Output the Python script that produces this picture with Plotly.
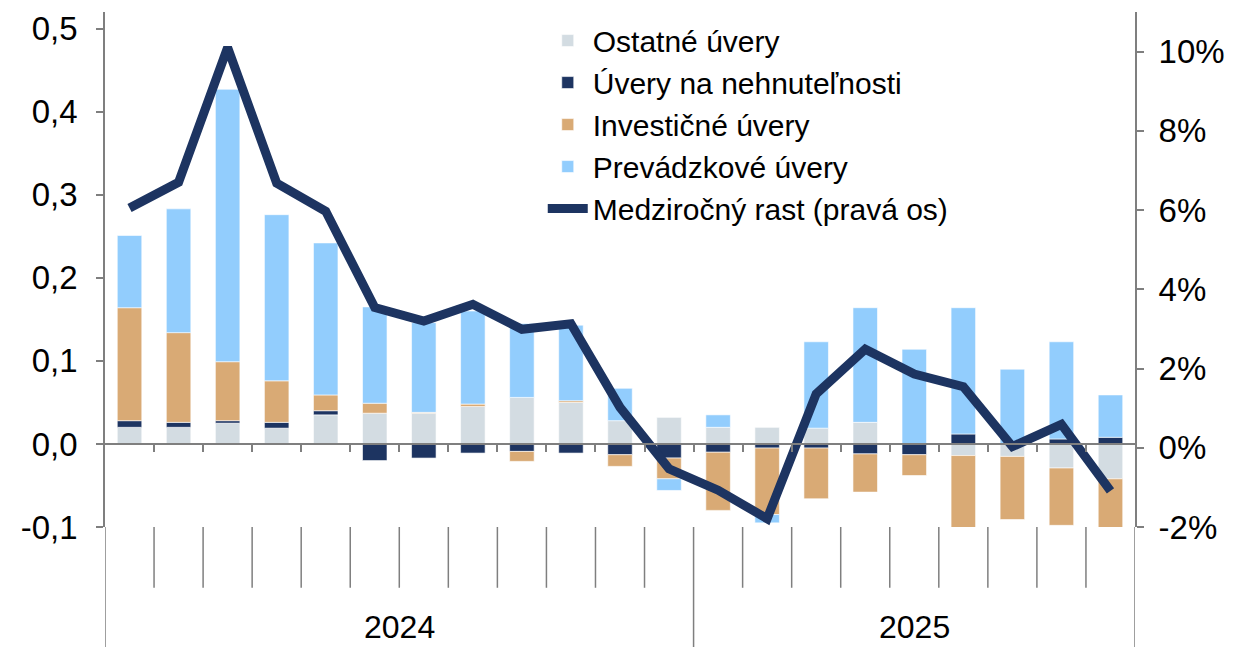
import plotly.graph_objects as go

# mesiace 01/2024 - 09/2025
roky = ["2024"] * 12 + ["2025"] * 9
mesiace = ["1", "2", "3", "4", "5", "6", "7", "8", "9", "10", "11", "12",
           "1", "2", "3", "4", "5", "6", "7", "8", "9"]

# príspevky k rastu (p.b.), ľavá os
ostatne = [0.020, 0.020, 0.025, 0.019, 0.035, 0.037, 0.037, 0.045, 0.056, 0.050, 0.028,
           0.032, 0.020, 0.020, 0.019, 0.026, 0.000, -0.014, -0.015, -0.029, -0.042]
nehnutelnosti = [0.008, 0.006, 0.003, 0.007, 0.005, -0.020, -0.017, -0.011, -0.009, -0.011, -0.013,
                 -0.017, -0.010, -0.005, -0.005, -0.012, -0.013, 0.012, 0.000, 0.006, 0.008]
investicne = [0.136, 0.108, 0.071, 0.050, 0.019, 0.012, 0.001, 0.003, -0.012, 0.002, -0.014,
              -0.025, -0.070, -0.080, -0.061, -0.046, -0.025, -0.087, -0.076, -0.069, -0.060]
prevadzkove = [0.087, 0.149, 0.328, 0.200, 0.183, 0.116, 0.108, 0.112, 0.089, 0.091, 0.039,
               -0.014, 0.015, -0.010, 0.104, 0.138, 0.114, 0.152, 0.090, 0.117, 0.051]

# medziročný rast (%), pravá os
rast = [6.05, 6.70, 10.1, 6.68, 5.97, 3.54, 3.20, 3.62, 2.99, 3.13, 1.02,
        -0.53, -1.07, -1.79, 1.36, 2.49, 1.86, 1.54, 0.03, 0.59, -1.09]

lave_ticky = [-0.1, 0.0, 0.1, 0.2, 0.3, 0.4, 0.5]
prave_ticky = [-2, 0, 2, 4, 6, 8, 10]

FONT = "Liberation Sans, Arial, sans-serif"
OS_FARBA = "#7f7f7f"

x = list(range(len(mesiace)))

serie = [
    ("Ostatné úvery", ostatne, "#d3dce2"),
    ("Úvery na nehnuteľnosti", nehnutelnosti, "#1d3461"),
    ("Investičné úvery", investicne, "#d9aa75"),
    ("Prevádzkové úvery", prevadzkove, "#92cdfd"),
]

fig = go.Figure()
for nazov, hodnoty, farba in serie:
    fig.add_trace(go.Bar(
        x=x, y=hodnoty, name=nazov,
        marker=dict(color=farba, line=dict(color="rgba(255,255,255,0.6)", width=1)),
    ))

fig.add_trace(go.Scatter(
    x=x, y=rast, name="Medziročný rast (pravá os)", yaxis="y2",
    mode="lines", line=dict(color="#1d3461", width=9),
))

lo, hi = -0.1, 0.52
pos_nula = (0 - lo) / (hi - lo)

# deliace čiary pod grafom (mesiace a roky)
hranice = [i + 0.5 for i in x[:-1]]
shapes = []
for i, h in enumerate(hranice):
    if roky[i] != roky[i + 1]:
        continue
    shapes.append(dict(type="line", xref="x", yref="paper", x0=h, x1=h, y0=0, y1=-0.118,
                       line=dict(color=OS_FARBA, width=1.5)))
roky_hranice = [-0.5] + [i + 0.5 for i in x[:-1] if roky[i] != roky[i + 1]] + [x[-1] + 0.5]
for h in roky_hranice:
    shapes.append(dict(type="line", xref="x", yref="paper", x0=h, x1=h, y0=0, y1=-0.24,
                       line=dict(color=OS_FARBA, width=1.5)))

annotations = []
for rok in sorted(set(roky)):
    idx = [i for i, r in enumerate(roky) if r == rok]
    annotations.append(dict(x=sum(idx) / len(idx), y=-0.195, xref="x", yref="paper",
                            text=rok, showarrow=False, yanchor="middle",
                            font=dict(size=32, family=FONT, color="black")))

fig.update_layout(
    width=1230, height=639,
    margin=dict(l=97, r=103, t=2, b=120),
    barmode="relative", bargap=0.5,
    plot_bgcolor="white", paper_bgcolor="white",
    font=dict(family=FONT, color="black", size=33),
    shapes=shapes, annotations=annotations,
    xaxis=dict(range=[-0.5, len(x) - 0.5], anchor="free", position=pos_nula,
               showline=True, linecolor=OS_FARBA, linewidth=2,
               tickmode="array", tickvals=hranice, ticks="outside", ticklen=7,
               tickcolor=OS_FARBA, tickwidth=2, showticklabels=False, showgrid=False,
               zeroline=False),
    yaxis=dict(range=[lo, hi], tickmode="array", tickvals=lave_ticky,
               ticktext=[f"{v:.1f}".replace(".", ",") for v in lave_ticky],
               ticks="outside", ticklen=7, tickcolor=OS_FARBA, tickwidth=1.5,
               showline=True, linecolor=OS_FARBA, linewidth=1.5, ticklabelstandoff=12,
               ticklabeloverflow="allow",
               showgrid=False, zeroline=False, tickfont=dict(size=33)),
    yaxis2=dict(range=[-2, 11], overlaying="y", side="right", tickmode="array",
                tickvals=prave_ticky, ticktext=[f"{v}%" for v in prave_ticky],
                ticks="outside", ticklen=7, tickcolor=OS_FARBA, tickwidth=1.5,
                showline=True, linecolor=OS_FARBA, linewidth=2, ticklabelstandoff=8,
                ticklabeloverflow="allow",
                showgrid=False, zeroline=False, tickfont=dict(size=33)),
    legend=dict(x=0.425, y=0.995, xanchor="left", yanchor="top",
                bgcolor="rgba(255,255,255,0)", font=dict(size=30, family=FONT),
                tracegroupgap=0, itemwidth=40),
)

fig.write_html("out.html")
